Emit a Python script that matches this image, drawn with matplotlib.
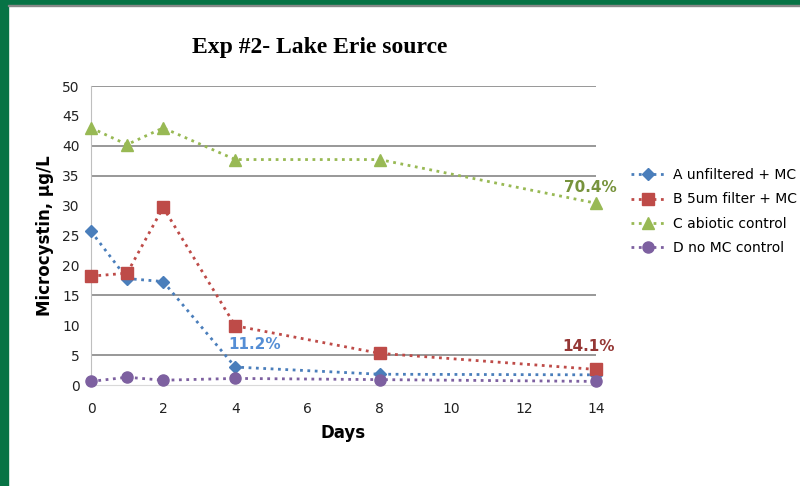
import matplotlib.pyplot as plt
from matplotlib.patches import Rectangle

days = [0, 1, 2, 4, 8, 14]
a_unfiltered = [25.7, 17.8, 17.3, 3.0, 1.8, 1.7]
b_filter = [18.2, 18.7, 29.7, 9.9, 5.3, 2.6]
c_abiotic = [43.0, 40.2, 43.0, 37.7, 37.7, 30.4]
d_no_mc = [0.6, 1.3, 0.8, 1.1, 0.9, 0.6]

series_labels = ["A unfiltered + MC", "B 5um filter + MC", "C abiotic control", "D no MC control"]
grid_levels = [5, 15, 35, 40, 50]

fig = plt.figure(figsize=(8, 4.86), dpi=100)

# slide frame (green bars on the left and top)
fig.patches.append(Rectangle((0, 0), 8 / 800, 1, transform=fig.transFigure,
                             color='#077345', zorder=0))
fig.patches.append(Rectangle((0, 1 - 5 / 486), 1, 5 / 486, transform=fig.transFigure,
                             color='#077345', zorder=0))
fig.patches.append(Rectangle((8 / 800, 1 - 6 / 486), 1, 1 / 486, transform=fig.transFigure,
                             color='#888888', zorder=0))

ax = fig.add_axes([91 / 800, 1 - 385 / 486, 505 / 800, 299 / 486])

for y in grid_levels:
    ax.axhline(y, color='#868686', linewidth=1.2, zorder=1)

styles = [
    (a_unfiltered, '#4a7ebb', 'D', 6),
    (b_filter, '#be4b48', 's', 8),
    (c_abiotic, '#98b954', '^', 9),
    (d_no_mc, '#7d60a0', 'o', 8),
]
for (vals, col, mk, ms), lab in zip(styles, series_labels):
    ax.plot(days, vals, linestyle=':', linewidth=2, color=col, marker=mk,
            markersize=ms, label=lab, clip_on=False, zorder=3)

ax.text(days[3] + 0.55, a_unfiltered[3] + 3.8, "11.2%", color='#558ed5',
        fontsize=11, fontweight='bold', ha='center', va='center')
ax.text(days[5] - 0.2, b_filter[5] + 3.8, "14.1%", color='#953735',
        fontsize=11, fontweight='bold', ha='center', va='center')
ax.text(days[5] - 0.15, c_abiotic[5] + 2.6, "70.4%", color='#77933c',
        fontsize=11, fontweight='bold', ha='center', va='center')

ax.set_xlim(0, 14)
ax.set_ylim(0, 50)
ax.set_xticks(range(0, 15, 2))
ax.set_yticks(range(0, 51, 5))
ax.tick_params(axis='both', length=0, labelsize=10, labelcolor='#222222')
ax.tick_params(axis='x', pad=12)
ax.tick_params(axis='y', pad=8)
for s in ['top', 'right']:
    ax.spines[s].set_visible(False)
ax.spines['left'].set_color('#bfbfbf')
ax.spines['bottom'].set_color('#d9d9d9')

ax.set_xlabel("Days", fontsize=12, fontweight='bold', labelpad=6)
ax.set_ylabel("Microcystin, \u03bcg/L", fontsize=12, fontweight='bold', labelpad=6)

fig.text(320 / 800, 1 - 48 / 486, "Exp #2- Lake Erie source", family='Liberation Serif',
         fontsize=17, fontweight='bold', ha='center', va='center')

ax.legend(loc='center left', bbox_to_anchor=(1.045, 0.58), frameon=False, fontsize=10,
          handlelength=2.4, handletextpad=0.6, labelspacing=0.75)

fig.savefig("out.png", dpi=100)
